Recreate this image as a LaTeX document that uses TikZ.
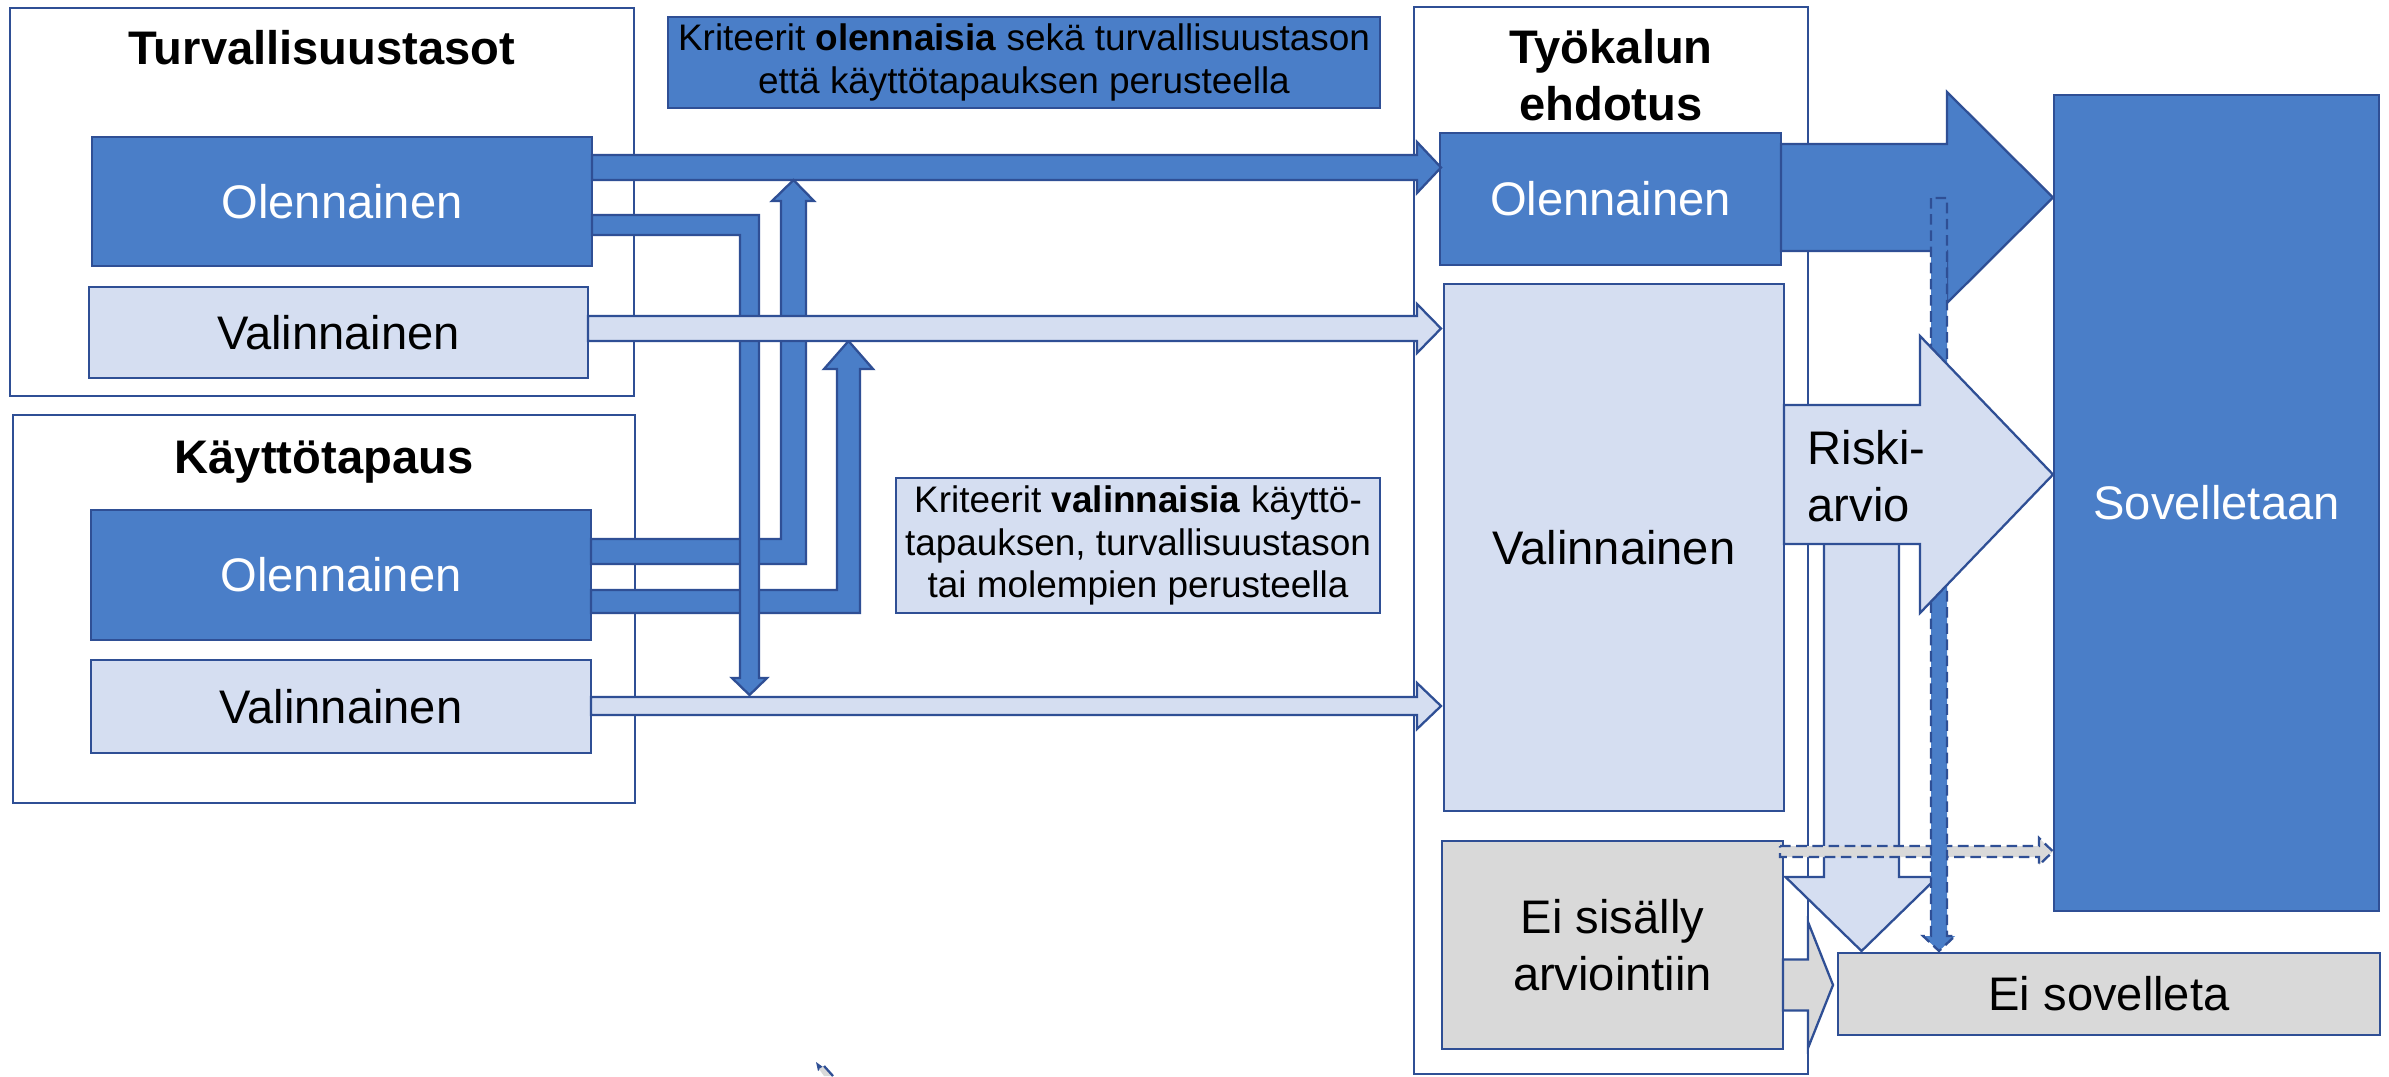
\documentclass[tikz,border=0pt]{standalone}
\usepackage{fontspec}
\setmainfont{Liberation Sans}
\definecolor{mblue}{HTML}{4A7EC8}
\definecolor{lblue}{HTML}{D5DEF1}
\definecolor{oline}{HTML}{2F4F95}
\definecolor{lgray}{HTML}{D9D9D9}
\newcommand\mainf{\fontsize{13.4}{16.2}\selectfont}
\newcommand\ttlf{\fontsize{13.4}{16.2}\selectfont\bfseries}
\newcommand\krf{\fontsize{10.5}{12.2}\selectfont}
% box node: name, style, x1, y1, x2, y2, text
\newcommand\mybx[7]{\node[#2, inner sep=0pt, align=center,
  minimum width={(#5-#3)*0.01cm}, minimum height={(#6-#4)*0.01cm}]
  (#1) at ({(#3+#5)/2},{(#4+#6)/2}) {#7};}
% right block arrow: style, x0, xtip, yc, shaft half, head half, head length
\newcommand\myrarr[7]{\draw[#1] (#2,{#4-#5}) -- ({#3-#7},{#4-#5}) -- ({#3-#7},{#4-#6})
  -- (#3,#4) -- ({#3-#7},{#4+#6}) -- ({#3-#7},{#4+#5}) -- (#2,{#4+#5}) -- cycle;}
% down block arrow: style, y0, ytip, xc, shaft half, head half, head length
\newcommand\mydarr[7]{\draw[#1] ({#4-#5},#2) -- ({#4-#5},{#3-#7}) -- ({#4-#6},{#3-#7})
  -- (#4,#3) -- ({#4+#6},{#3-#7}) -- ({#4+#5},{#3-#7}) -- ({#4+#5},#2) -- cycle;}
\begin{document}
\begin{tikzpicture}[x=0.01cm,y=-0.01cm,
  ol/.style={draw=oline, line width=0.65pt},
  bxw/.style={ol, fill=white},
  bxd/.style={ol, fill=mblue, text=white, font=\mainf},
  bxl/.style={ol, fill=lblue, font=\mainf},
  bxg/.style={ol, fill=lgray, font=\mainf},
  bxk/.style={ol, fill=mblue, font=\krf},
  bxks/.style={ol, fill=lblue, font=\krf},
  ttl/.style={font=\ttlf, inner sep=0pt},
  arrd/.style={ol, fill=mblue},
  arrl/.style={ol, fill=lblue},
  arrg/.style={ol, fill=lgray},
  dsh/.style={dash pattern=on 3pt off 1.6pt}]
\fill[white] (0,0) rectangle (2389,1076);
\useasboundingbox (0,0) rectangle (2389,1076);

% outer frames
\mybx{ts}{bxw}{10}{8}{634}{396}{}
\mybx{kt}{bxw}{13}{415}{635}{803}{}
\mybx{tool}{bxw}{1414}{7}{1808}{1074}{}

% titles
\node[ttl, anchor=base] (tsT) at (322,65) {Turvallisuustasot};
\node[ttl, anchor=base] (ktT) at (324,473) {Käyttötapaus};
\node[ttl, anchor=north, align=center] (toolT) at (1611,29) {Työkalun\\ehdotus};

% inner boxes
\mybx{tsO}{bxd}{92}{137}{592}{266}{Olennainen}
\mybx{tsV}{bxl}{89}{287}{588}{378}{Valinnainen}
\mybx{ktO}{bxd}{91}{510}{591}{640}{Olennainen}
\mybx{ktV}{bxl}{91}{660}{591}{753}{Valinnainen}
\mybx{krO}{bxk}{668}{17}{1380}{108}{Kriteerit \textbf{olennaisia} sekä turvallisuustason\\että käyttötapauksen perusteella}
\mybx{krV}{bxks}{896}{478}{1380}{613}{Kriteerit \textbf{valinnaisia} käyttö-\\tapauksen, turvallisuustason\\tai molempien perusteella}
\mybx{toolO}{bxd}{1440}{133}{1781}{265}{Olennainen}
\mybx{toolV}{bxl}{1444}{284}{1784}{811}{Valinnainen}
\mybx{toolE}{bxg}{1442}{841}{1783}{1049}{Ei sisälly\\arviointiin}
\mybx{sov}{bxd}{2054}{95}{2379}{911}{Sovelletaan}
\mybx{eis}{bxg}{1838}{953}{2380}{1035}{Ei sovelleta}

% left-side arrows
\myrarr{arrd}{592}{1441}{167.5}{12.5}{25.5}{24}
\draw[arrd] (591,564) -- (806,564) -- (806,201) -- (814,201) -- (793.5,180)
  -- (772,201) -- (781,201) -- (781,539) -- (591,539) -- cycle;
\draw[arrd] (591,613) -- (860,613) -- (860,369) -- (873,369) -- (848.5,341)
  -- (824,369) -- (837,369) -- (837,590) -- (591,590) -- cycle;
\draw[arrd] (592,215) -- (759,215) -- (759,678) -- (767,678) -- (749.5,695)
  -- (732,678) -- (740,678) -- (740,235) -- (592,235) -- cycle;
\myrarr{arrl}{588}{1441}{328.5}{12.5}{24.5}{24}
\myrarr{arrl}{591}{1441}{706}{9}{23}{24}

% right-side arrows
\myrarr{arrd}{1781}{2053}{197.5}{53.5}{105.5}{106}
\mydarr{arrl}{543}{951}{1861.5}{37.5}{76}{74}
\myrarr{arrg,dsh}{1780}{2053}{851.5}{5.5}{13.5}{14}
\mydarr{arrd,dsh}{198}{951}{1939}{8}{16}{15}
\myrarr{arrl}{1784}{2053}{474.5}{69.5}{138.5}{133}
\myrarr{arrg}{1783}{1833}{985}{25.5}{63}{25}
\node[font=\mainf, inner sep=0pt, align=left, anchor=north west] (riski) at (1807,430) {Riski-\\arvio};

% small fragment at the bottom edge
\fill[oline] (816,1062) -- (823,1067) -- (818,1071) -- cycle;
\fill[lgray] (819,1069) -- (824,1066) -- (833,1076) -- (824,1076) -- cycle;
\draw[oline, line width=0.65pt] (824,1066) -- (833,1076);
\end{tikzpicture}
\end{document}
